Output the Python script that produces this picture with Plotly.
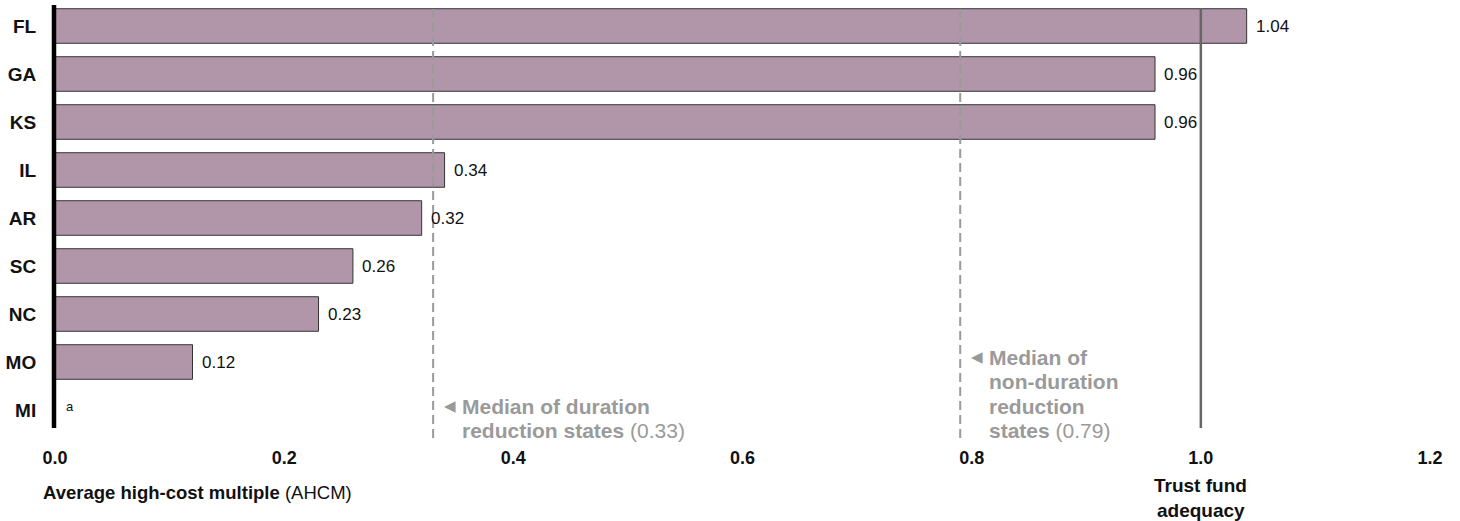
import plotly.graph_objects as go

states = ["FL", "GA", "KS", "IL", "AR", "SC", "NC", "MO", "MI"]
ahcm = [1.04, 0.96, 0.96, 0.34, 0.32, 0.26, 0.23, 0.12, 0.0]
labels = ["1.04", "0.96", "0.96", "0.34", "0.32", "0.26", "0.23", "0.12", "a"]
median_duration = 0.33
median_nonduration = 0.79
adequacy = 1.0
x_ticks = [0.0, 0.2, 0.4, 0.6, 0.8, 1.0, 1.2]

FONT = "Arial, Liberation Sans, sans-serif"
GREY = "#9a9a9a"
PLOT_TOP, PLOT_BOTTOM = 2, 434
PH = PLOT_BOTTOM - PLOT_TOP
PLOT_LEFT, PLOT_RIGHT = 55, 30
PW = 1460 - PLOT_LEFT - PLOT_RIGHT


def py(pix):
    """pixel row -> paper y"""
    return (PLOT_BOTTOM - pix) / PH


fig = go.Figure()
fig.add_trace(go.Bar(
    y=states, x=ahcm, orientation="h",
    marker=dict(color="#b096a8", line=dict(color="#333333", width=1)),
    width=0.72, hoverinfo="skip", showlegend=False,
))

annotations = []
for s, v, t in zip(states, ahcm, labels):
    is_a = t == "a"
    annotations.append(dict(
        x=v, y=s, xref="x", yref="y", text=t, showarrow=False,
        xanchor="left", xshift=9 if is_a else 7,
        yshift=4 if is_a else 0,
        font=dict(family=FONT, size=13 if is_a else 17, color="#111111"),
    ))

shapes = [
    dict(type="line", xref="x", yref="paper", x0=median_duration, x1=median_duration,
         y0=py(438), y1=py(8), line=dict(color=GREY, width=2, dash="9px,5px")),
    dict(type="line", xref="x", yref="paper", x0=median_nonduration, x1=median_nonduration,
         y0=py(438), y1=py(8), line=dict(color=GREY, width=2, dash="9px,5px")),
    dict(type="line", xref="x", yref="paper", x0=adequacy, x1=adequacy,
         y0=py(428), y1=py(8), line=dict(color="#666666", width=2.5)),
    dict(type="line", xref="paper", yref="paper", x0=-1 / PW, x1=-1 / PW,
         y0=py(428), y1=py(5), line=dict(color="#000000", width=4.5)),
]


def note(xval, lines, rows, with_arrow_row):
    out = []
    for ln, row in zip(lines, rows):
        out.append(dict(x=xval, y=py(row), xref="x", yref="paper", xanchor="left",
                        yanchor="middle", xshift=27, showarrow=False, text=ln,
                        font=dict(family=FONT, size=21, color=GREY)))
    out.append(dict(x=xval, y=py(rows[with_arrow_row]), xref="x", yref="paper",
                    xanchor="left", yanchor="middle", xshift=9, showarrow=False,
                    text="◀", font=dict(family="DejaVu Sans", size=15, color=GREY)))
    return out


annotations += note(median_duration,
                    ["<b>Median of duration</b>", "<b>reduction states</b> (0.33)"],
                    [406, 430], 0)
annotations += note(median_nonduration,
                    ["<b>Median of</b>", "<b>non-duration</b>", "<b>reduction</b>",
                     "<b>states</b> (0.79)"],
                    [357, 381, 406, 430], 0)

annotations += [
    dict(x=0, y=py(493), xref="paper", yref="paper", xanchor="left", yanchor="middle",
         xshift=-14, showarrow=False, align="left",
         text="<b>Average high-cost multiple</b> (AHCM)",
         font=dict(family=FONT, size=18.5, color="#111111")),
    dict(x=adequacy, y=py(485), xref="x", yref="paper", xanchor="center", yanchor="middle",
         showarrow=False, text="<b>Trust fund</b>",
         font=dict(family=FONT, size=19, color="#111111")),
    dict(x=adequacy, y=py(510), xref="x", yref="paper", xanchor="center", yanchor="middle",
         showarrow=False, text="<b>adequacy</b>",
         font=dict(family=FONT, size=19, color="#111111")),
]

fig.update_layout(
    width=1460, height=521,
    margin=dict(l=PLOT_LEFT, r=PLOT_RIGHT, t=PLOT_TOP, b=521 - PLOT_BOTTOM),
    plot_bgcolor="white", paper_bgcolor="white",
    shapes=shapes, annotations=annotations,
    font=dict(family=FONT, color="#111111"),
)
fig.update_xaxes(
    range=[0, 1.2], tickvals=x_ticks, ticktext=[f"<b>{v:.1f}</b>" for v in x_ticks],
    showgrid=False, zeroline=False, showline=False, automargin=False,
    ticks="outside", ticklen=7, tickcolor="rgba(0,0,0,0)",
    tickfont=dict(family=FONT, size=18, color="#111111"),
)
fig.update_yaxes(
    range=[8.5, -0.5], autorange=False, showgrid=False, zeroline=False, showline=False,
    automargin=False,
    tickvals=states, ticktext=[f"<b>{s}</b>" for s in states],
    ticks="outside", ticklen=14, tickcolor="rgba(0,0,0,0)",
    tickfont=dict(family=FONT, size=19, color="#111111"),
)

fig.write_html(
    "out.html",
    config={"displayModeBar": False},
    post_script="document.body.style.margin='0';document.body.style.padding='0';",
)
